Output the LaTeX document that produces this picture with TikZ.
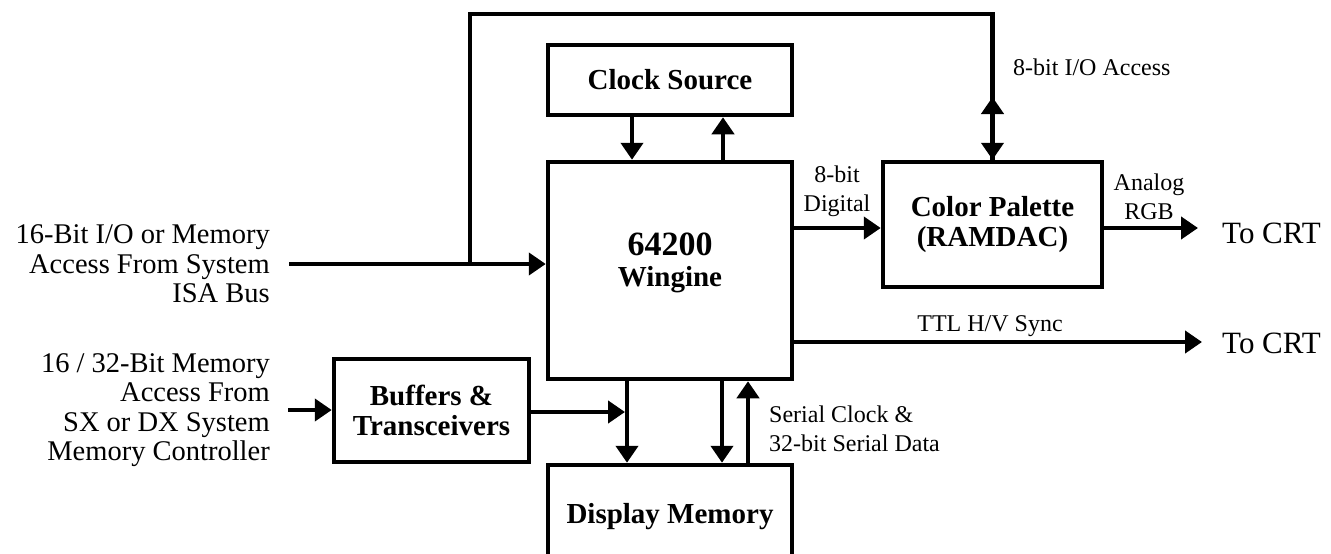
\documentclass[tikz,border=0pt]{standalone}
\usepackage{fontspec}
\setmainfont{Liberation Serif}
\usetikzlibrary{arrows.meta}
\tikzset{
  box/.style={draw, line width=4.5pt, inner sep=0pt, font=\fontsize{29}{30}\selectfont\bfseries, align=center},
  wire/.style={line width=4.5pt},
  arr/.style={wire, -{Triangle[length=17pt,width=22pt]}},
  dbl/.style={wire, {Triangle[length=17pt,width=22pt]}-{Triangle[length=17pt,width=22pt]}},
  bigtxt/.style={font=\fontsize{28.5}{29.5}\selectfont, inner sep=0pt},
  crttxt/.style={font=\fontsize{31}{31}\selectfont, inner sep=0pt},
  smalltxt/.style={font=\fontsize{24}{29}\selectfont, inner sep=0pt},
}
\begin{document}
\begin{tikzpicture}[x=1pt,y=-1pt]
\useasboundingbox (0,0) rectangle (1331,554);
% boxes
\node[box, minimum width=244pt, minimum height=70pt] (clock) at (670,80) {Clock Source};
\node[box, minimum width=244pt, minimum height=217pt] (wing) at (670,270.5) {};
\node[align=center, inner sep=0pt, font=\fontsize{29}{31}\selectfont\bfseries] (wingtxt) at (670,263) {{\fontsize{34}{31}\selectfont 64200}\\Wingine};
\node[box, minimum width=219pt, minimum height=125pt] (pal) at (992.5,224.5) {Color Palette\\(RAMDAC)};
\node[box, minimum width=195pt, minimum height=103pt] (buf) at (431.5,410.5) {Buffers \&\\Transceivers};
\node[box, minimum width=244pt, minimum height=104pt] (disp) at (670,517) {Display Memory};
% coordinates
\coordinate (isain) at (289,264);
\coordinate (junc) at (470,264);
\coordinate (top) at (0,14);
\coordinate (iotip) at (0,97);
\coordinate (dig) at (0,228);
\coordinate (crt1) at (1198,228);
\coordinate (crt2) at (1202,342);
\coordinate (bufin) at (288,410);
\coordinate (bufout) at (625,412);
\coordinate (m1) at (627,0);
\coordinate (m2) at (722,0);
\coordinate (m3) at (748,0);
% left texts
\node[bigtxt, align=right, anchor=east] (t1) at (270,264) {16-Bit I/O or Memory\\Access From System\\ISA Bus};
\node[bigtxt, align=right, anchor=east] (t2) at (270,410) {16 / 32-Bit Memory\\Access From\\SX or DX System\\Memory Controller};
% connectors
\draw[arr] (isain) -- (wing.west |- isain);
\draw[wire] (junc) |- (pal.north |- top) -- (pal.north);
\draw[dbl] (pal.north |- iotip) -- (pal.north);
\draw[arr] ([xshift=-38pt]clock.south) -- ([xshift=-38pt]wing.north);
\draw[arr] ([xshift=53pt]wing.north) -- ([xshift=53pt]clock.south);
\draw[arr] (wing.east |- dig) -- (pal.west |- dig);
\draw[arr] (pal.east |- dig) -- (crt1);
\draw[arr] (wing.east |- crt2) -- (crt2);
\draw[arr] (bufin) -- (buf.west |- bufin);
\draw[arr] (buf.east |- bufout) -- (bufout);
\draw[arr] (wing.south -| m1) -- (disp.north -| m1);
\draw[arr] (wing.south -| m2) -- (disp.north -| m2);
\draw[arr] (disp.north -| m3) -- (wing.south -| m3);
% labels
\node[smalltxt, anchor=west] (l1) at (1013,67) {8-bit I/O Access};
\node[smalltxt, align=center] (l2) at (837,191) {8-bit\\Digital};
\node[smalltxt, align=center] (l3) at (1149,197) {Analog\\RGB};
\node[smalltxt] (l4) at (990,326) {TTL H/V Sync};
\node[smalltxt, align=left, anchor=west] (l5) at (769,429) {Serial Clock \&\\32-bit Serial Data};
\node[crttxt, anchor=west] (crta) at (1222,233) {To CRT};
\node[crttxt, anchor=west] (crtb) at (1222,343) {To CRT};
\end{tikzpicture}
\end{document}
